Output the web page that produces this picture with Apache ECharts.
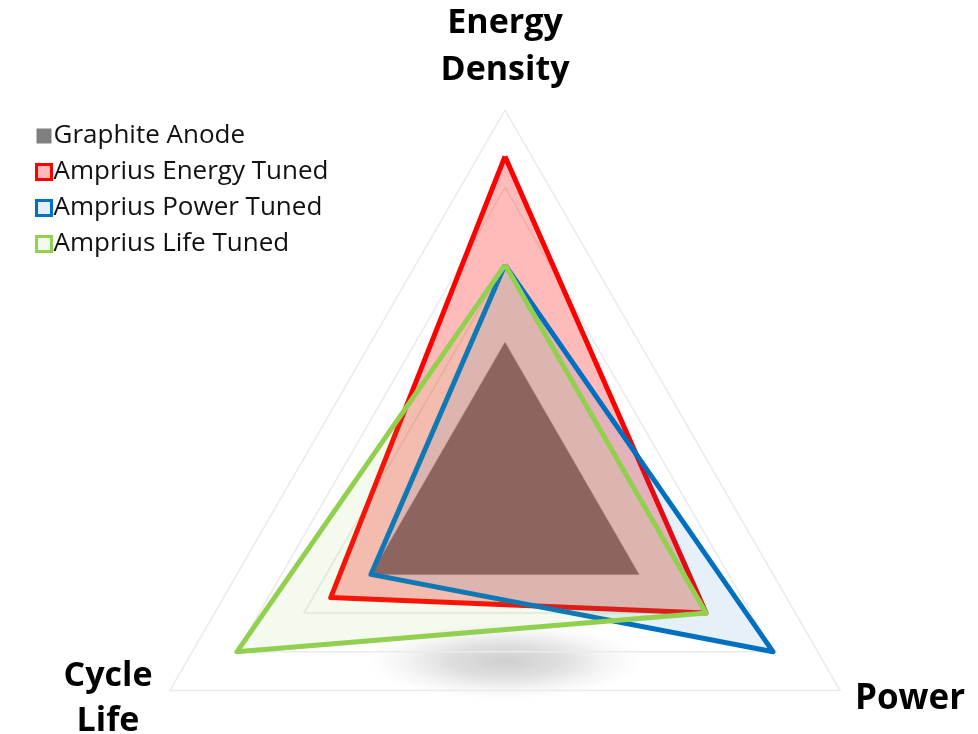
<!DOCTYPE html>
<html>
<head>
<meta charset="utf-8">
<script src="https://cdn.jsdelivr.net/npm/echarts@6/dist/echarts.min.js"></script>
<style>html,body{margin:0;padding:0;background:#fff}#c{width:978px;height:734px}</style>
</head>
<body>
<div id="c"></div>
<script>
// Indicators (ECharts places them counter-clockwise from the top)
const indicators = ['Energy Density', 'Cycle Life', 'Power'];
const axisMax = 10;
const seriesNames = ['Graphite Anode', 'Amprius Energy Tuned', 'Amprius Power Tuned', 'Amprius Life Tuned'];
// values in indicator order: Energy Density, Cycle Life, Power
const graphite = [4, 4, 4];
const energyTuned = [8.8, 5.2, 6];
const powerTuned = [6, 4, 8];
const lifeTuned = [6, 8, 6];

const font = '"Open Sans", Lato, sans-serif';
const chart = echarts.init(document.getElementById('c'), null, {renderer: 'canvas'});

const styles = [
  {line: {width: 0, opacity: 0}, area: {color: '#7b7b7b', opacity: 1}, legend: {color: '#7f7f7f', borderWidth: 0}},
  {line: {color: '#ff0000', width: 5, join: 'round'}, area: {color: '#ff0000', opacity: 0.27}, legend: {color: '#ffbaba', borderColor: '#ff0000', borderWidth: 3}},
  {line: {color: '#0070c0', width: 5, join: 'round'}, area: {color: '#0070c0', opacity: 0.1}, legend: {color: '#e3eef8', borderColor: '#0070c0', borderWidth: 3}},
  {line: {color: '#92d050', width: 5, join: 'round'}, area: {color: '#92d050', opacity: 0.1}, legend: {color: '#f2f8ec', borderColor: '#92d050', borderWidth: 3}}
];
const values = [graphite, energyTuned, powerTuned, lifeTuned];

chart.setOption({
  animation: false,
  backgroundColor: '#ffffff',
  legend: {
    orient: 'vertical',
    left: 30,
    top: 118,
    itemWidth: 15,
    itemHeight: 15,
    itemGap: 10,
    icon: 'rect',
    textStyle: {fontFamily: font, fontSize: 26, color: '#111', lineHeight: 26, padding: [0,0,0,-3]},
    data: seriesNames.map((n, i) => ({name: n, icon: 'rect', itemStyle: styles[i].legend}))
  },
  graphic: [
    {type: 'circle', z: -5, x: 505, y: 661, scaleX: 3.6, scaleY: 1, shape: {cx: 0, cy: 0, r: 38},
     style: {fill: {type: 'radial', x: 0.5, y: 0.5, r: 0.5,
       colorStops: [{offset: 0, color: 'rgba(0,0,0,0.19)'}, {offset: 0.4, color: 'rgba(0,0,0,0.13)'}, {offset: 0.75, color: 'rgba(0,0,0,0.04)'}, {offset: 1, color: 'rgba(0,0,0,0)'}]}}},
    {type: 'text', x: 505, y: 47, style: {text: 'Energy\nDensity', font: 'bold 34px ' + font, fill: '#000', align: 'center', verticalAlign: 'middle', lineHeight: 47}},
    {type: 'text', x: 910, y: 699, style: {text: 'Power', font: 'bold 35px ' + font, fill: '#000', align: 'center', verticalAlign: 'middle'}},
    {type: 'text', x: 108, y: 699, style: {text: 'Cycle\nLife', font: 'bold 34px ' + font, fill: '#000', align: 'center', verticalAlign: 'middle', lineHeight: 45}}
  ],
  radar: {
    center: [505, 497],
    radius: 387,
    startAngle: 90,
    splitNumber: 5,
    shape: 'polygon',
    indicator: indicators.map(n => ({name: n, max: axisMax, min: 0})),
    axisName: {show: false},
    axisLine: {show: false},
    axisTick: {show: false},
    axisLabel: {show: false},
    splitArea: {show: false},
    splitLine: {lineStyle: {color: '#ebebeb', width: 1.5}}
  },
  series: [{
    type: 'radar',
    symbol: 'none',
    data: values.map((v, i) => ({
      name: seriesNames[i],
      value: v,
      itemStyle: {color: styles[i].line.color || '#7f7f7f'},
      lineStyle: styles[i].line,
      areaStyle: styles[i].area
    }))
  }]
});
</script>
</body>
</html>
